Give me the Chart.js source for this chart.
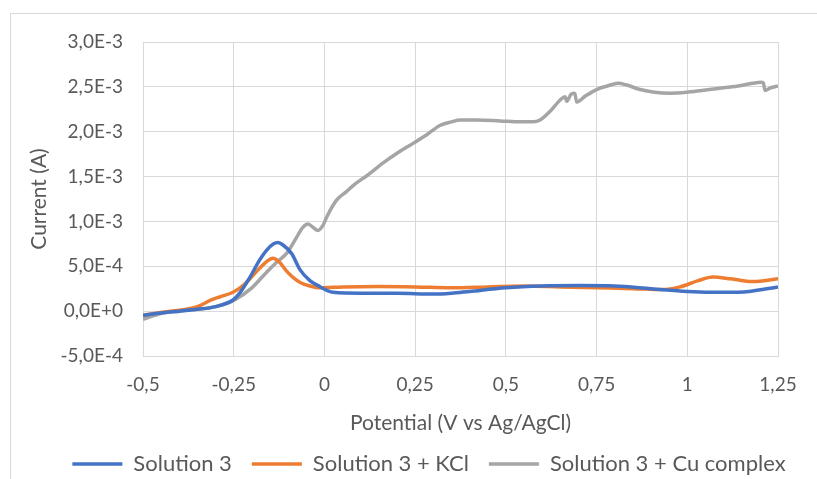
<!DOCTYPE html>
<html>
<head>
<meta charset="utf-8">
<script src="https://cdn.jsdelivr.net/npm/chart.js@4/dist/chart.umd.min.js"></script>
<style>
  html, body { margin: 0; padding: 0; background: #ffffff; overflow: hidden; }
  #wrap { position: relative; width: 817px; height: 479px; overflow: hidden; }
  canvas { position: absolute; left: 0; top: 0; }
</style>
</head>
<body>
<div id="wrap"><canvas id="cv" width="817" height="485"></canvas></div>
<script>
// Potential (V vs Ag/AgCl) and current (A) for each voltammogram
const sol3Potential = [-0.5, -0.45, -0.4, -0.35, -0.3, -0.25, -0.23, -0.205, -0.18, -0.159, -0.14, -0.128, -0.115, -0.09, -0.067, -0.04, -0.02, 0.024, 0.1, 0.2, 0.3, 0.35, 0.4, 0.5, 0.6, 0.7, 0.8, 0.9, 1.0, 1.1, 1.17, 1.25];
const sol3Current   = [-0.045e-3, -0.02e-3, 0.0, 0.02e-3, 0.05e-3, 0.13e-3, 0.22e-3, 0.38e-3, 0.56e-3, 0.68e-3, 0.75e-3, 0.765e-3, 0.74e-3, 0.64e-3, 0.46e-3, 0.34e-3, 0.29e-3, 0.21e-3, 0.2e-3, 0.2e-3, 0.19e-3, 0.2e-3, 0.22e-3, 0.26e-3, 0.28e-3, 0.285e-3, 0.28e-3, 0.25e-3, 0.22e-3, 0.21e-3, 0.22e-3, 0.27e-3];

const kclPotential = [-0.5, -0.45, -0.4, -0.35, -0.315, -0.288, -0.252, -0.22, -0.19, -0.16, -0.142, -0.125, -0.103, -0.085, -0.067, -0.04, -0.012, 0.05, 0.15, 0.25, 0.35, 0.45, 0.55, 0.65, 0.75, 0.85, 0.93, 0.98, 1.03, 1.07, 1.12, 1.18, 1.25];
const kclCurrent   = [-0.045e-3, -0.015e-3, 0.01e-3, 0.05e-3, 0.12e-3, 0.16e-3, 0.21e-3, 0.3e-3, 0.43e-3, 0.55e-3, 0.59e-3, 0.55e-3, 0.44e-3, 0.37e-3, 0.32e-3, 0.28e-3, 0.26e-3, 0.27e-3, 0.275e-3, 0.27e-3, 0.26e-3, 0.27e-3, 0.28e-3, 0.27e-3, 0.26e-3, 0.25e-3, 0.24e-3, 0.27e-3, 0.34e-3, 0.38e-3, 0.36e-3, 0.33e-3, 0.36e-3];

const cuPotential = [-0.5, -0.47, -0.434, -0.4, -0.35, -0.3, -0.25, -0.2, -0.158, -0.13, -0.103, -0.08, -0.06, -0.045, -0.03, -0.018, -0.005, 0.01, 0.034, 0.06, 0.079, 0.12, 0.161, 0.2, 0.236, 0.28, 0.318, 0.35, 0.374, 0.42, 0.484, 0.54, 0.575, 0.594, 0.62, 0.649, 0.663, 0.668, 0.68, 0.69, 0.695, 0.72, 0.75, 0.78, 0.809, 0.833, 0.87, 0.91, 0.952, 0.998, 1.04, 1.08, 1.14, 1.18, 1.205, 1.21, 1.214, 1.23, 1.25];
const cuCurrent   = [-0.09e-3, -0.05e-3, -0.01e-3, 0.0, 0.02e-3, 0.05e-3, 0.12e-3, 0.26e-3, 0.44e-3, 0.55e-3, 0.65e-3, 0.8e-3, 0.93e-3, 0.97e-3, 0.93e-3, 0.9e-3, 0.95e-3, 1.08e-3, 1.24e-3, 1.33e-3, 1.4e-3, 1.52e-3, 1.65e-3, 1.76e-3, 1.85e-3, 1.96e-3, 2.07e-3, 2.11e-3, 2.13e-3, 2.13e-3, 2.12e-3, 2.11e-3, 2.11e-3, 2.13e-3, 2.22e-3, 2.35e-3, 2.39e-3, 2.34e-3, 2.42e-3, 2.43e-3, 2.33e-3, 2.4e-3, 2.47e-3, 2.51e-3, 2.54e-3, 2.52e-3, 2.47e-3, 2.44e-3, 2.43e-3, 2.44e-3, 2.46e-3, 2.48e-3, 2.51e-3, 2.54e-3, 2.55e-3, 2.54e-3, 2.46e-3, 2.49e-3, 2.51e-3];

const seriesNames = ['Solution 3', 'Solution 3 + KCl', 'Solution 3 + Cu complex'];

// Axis tick values
const potentialTicks = [-0.5, -0.25, 0, 0.25, 0.5, 0.75, 1, 1.25];
const currentTicks = [-0.0005, 0, 0.0005, 0.001, 0.0015, 0.002, 0.0025, 0.003];

const TEXT = '#595959';
const GRID = '#d9d9d9';
const FONT = 'Lato';

function toPoints(xs, ys) { return xs.map((x, i) => ({ x: x, y: ys[i] })); }
function decimalComma(v) { return String(v).replace('.', ','); }
function sciLabel(v) {
  return Number(v).toExponential(1).replace('.', ',').replace('e', 'E');
}

// light frame around the chart object
const framePlugin = {
  id: 'frame',
  beforeDraw(chart) {
    const ctx = chart.ctx;
    ctx.save();
    ctx.strokeStyle = GRID;
    ctx.lineWidth = 1;
    ctx.strokeRect(10.5, 13.5, 1200, 1200);
    ctx.restore();
  }
};

// shift the legend row right so it sits centred under the whole chart object
const legendPlacement = {
  id: 'legendPlacement',
  afterLayout(chart) {
    const lg = chart.legend;
    if (lg) {
      lg.left += 40;
      lg.right += 40;
    }
  }
};

const line = (name, pts, color) => ({
  label: name,
  data: pts,
  showLine: true,
  borderColor: color,
  backgroundColor: color,
  borderWidth: 3.5,
  pointRadius: 0,
  fill: false,
  cubicInterpolationMode: 'monotone'
});

new Chart(document.getElementById('cv'), {
  type: 'scatter',
  data: {
    datasets: [
      line(seriesNames[0], toPoints(sol3Potential, sol3Current), '#4472C4'),
      line(seriesNames[1], toPoints(kclPotential, kclCurrent), '#ED7D31'),
      line(seriesNames[2], toPoints(cuPotential, cuCurrent), '#A5A5A5')
    ]
  },
  options: {
    responsive: false,
    animation: false,
    devicePixelRatio: 1,
    layout: { padding: { top: 42, right: 39, left: 0, bottom: 0 } },
    plugins: {
      tooltip: { enabled: false },
      legend: {
        position: 'bottom',
        labels: {
          usePointStyle: true,
          pointStyle: 'line',
          pointStyleWidth: 50,
          padding: 20,
          color: TEXT,
          font: { family: FONT, size: 22 }
        }
      }
    },
    scales: {
      x: {
        type: 'linear',
        min: -0.5,
        max: 1.25,
        afterBuildTicks: s => { s.ticks = potentialTicks.map(v => ({ value: v })); },
        afterFit: s => { s.height = 77; },
        grid: { color: GRID, drawTicks: false },
        border: { color: GRID },
        ticks: {
          padding: 17,
          color: TEXT,
          font: { family: FONT, size: 19 },
          callback: v => decimalComma(v)
        },
        title: {
          display: true,
          text: 'Potential (V vs Ag/AgCl)',
          color: TEXT,
          font: { family: FONT, size: 21 },
          padding: { top: 0, bottom: -3 }
        }
      },
      y: {
        type: 'linear',
        min: -0.0005,
        max: 0.003,
        afterBuildTicks: s => { s.ticks = currentTicks.map(v => ({ value: v })); },
        afterFit: s => { s.width = 143; },
        grid: { color: GRID, drawTicks: false },
        border: { color: GRID },
        ticks: {
          padding: 20,
          color: TEXT,
          font: { family: FONT, size: 19 },
          callback: v => sciLabel(v)
        },
        title: {
          display: true,
          text: 'Current (A)',
          color: TEXT,
          font: { family: FONT, size: 21 },
          padding: { top: 27, bottom: 0 }
        }
      }
    }
  },
  plugins: [framePlugin, legendPlacement]
});
</script>
</body>
</html>
